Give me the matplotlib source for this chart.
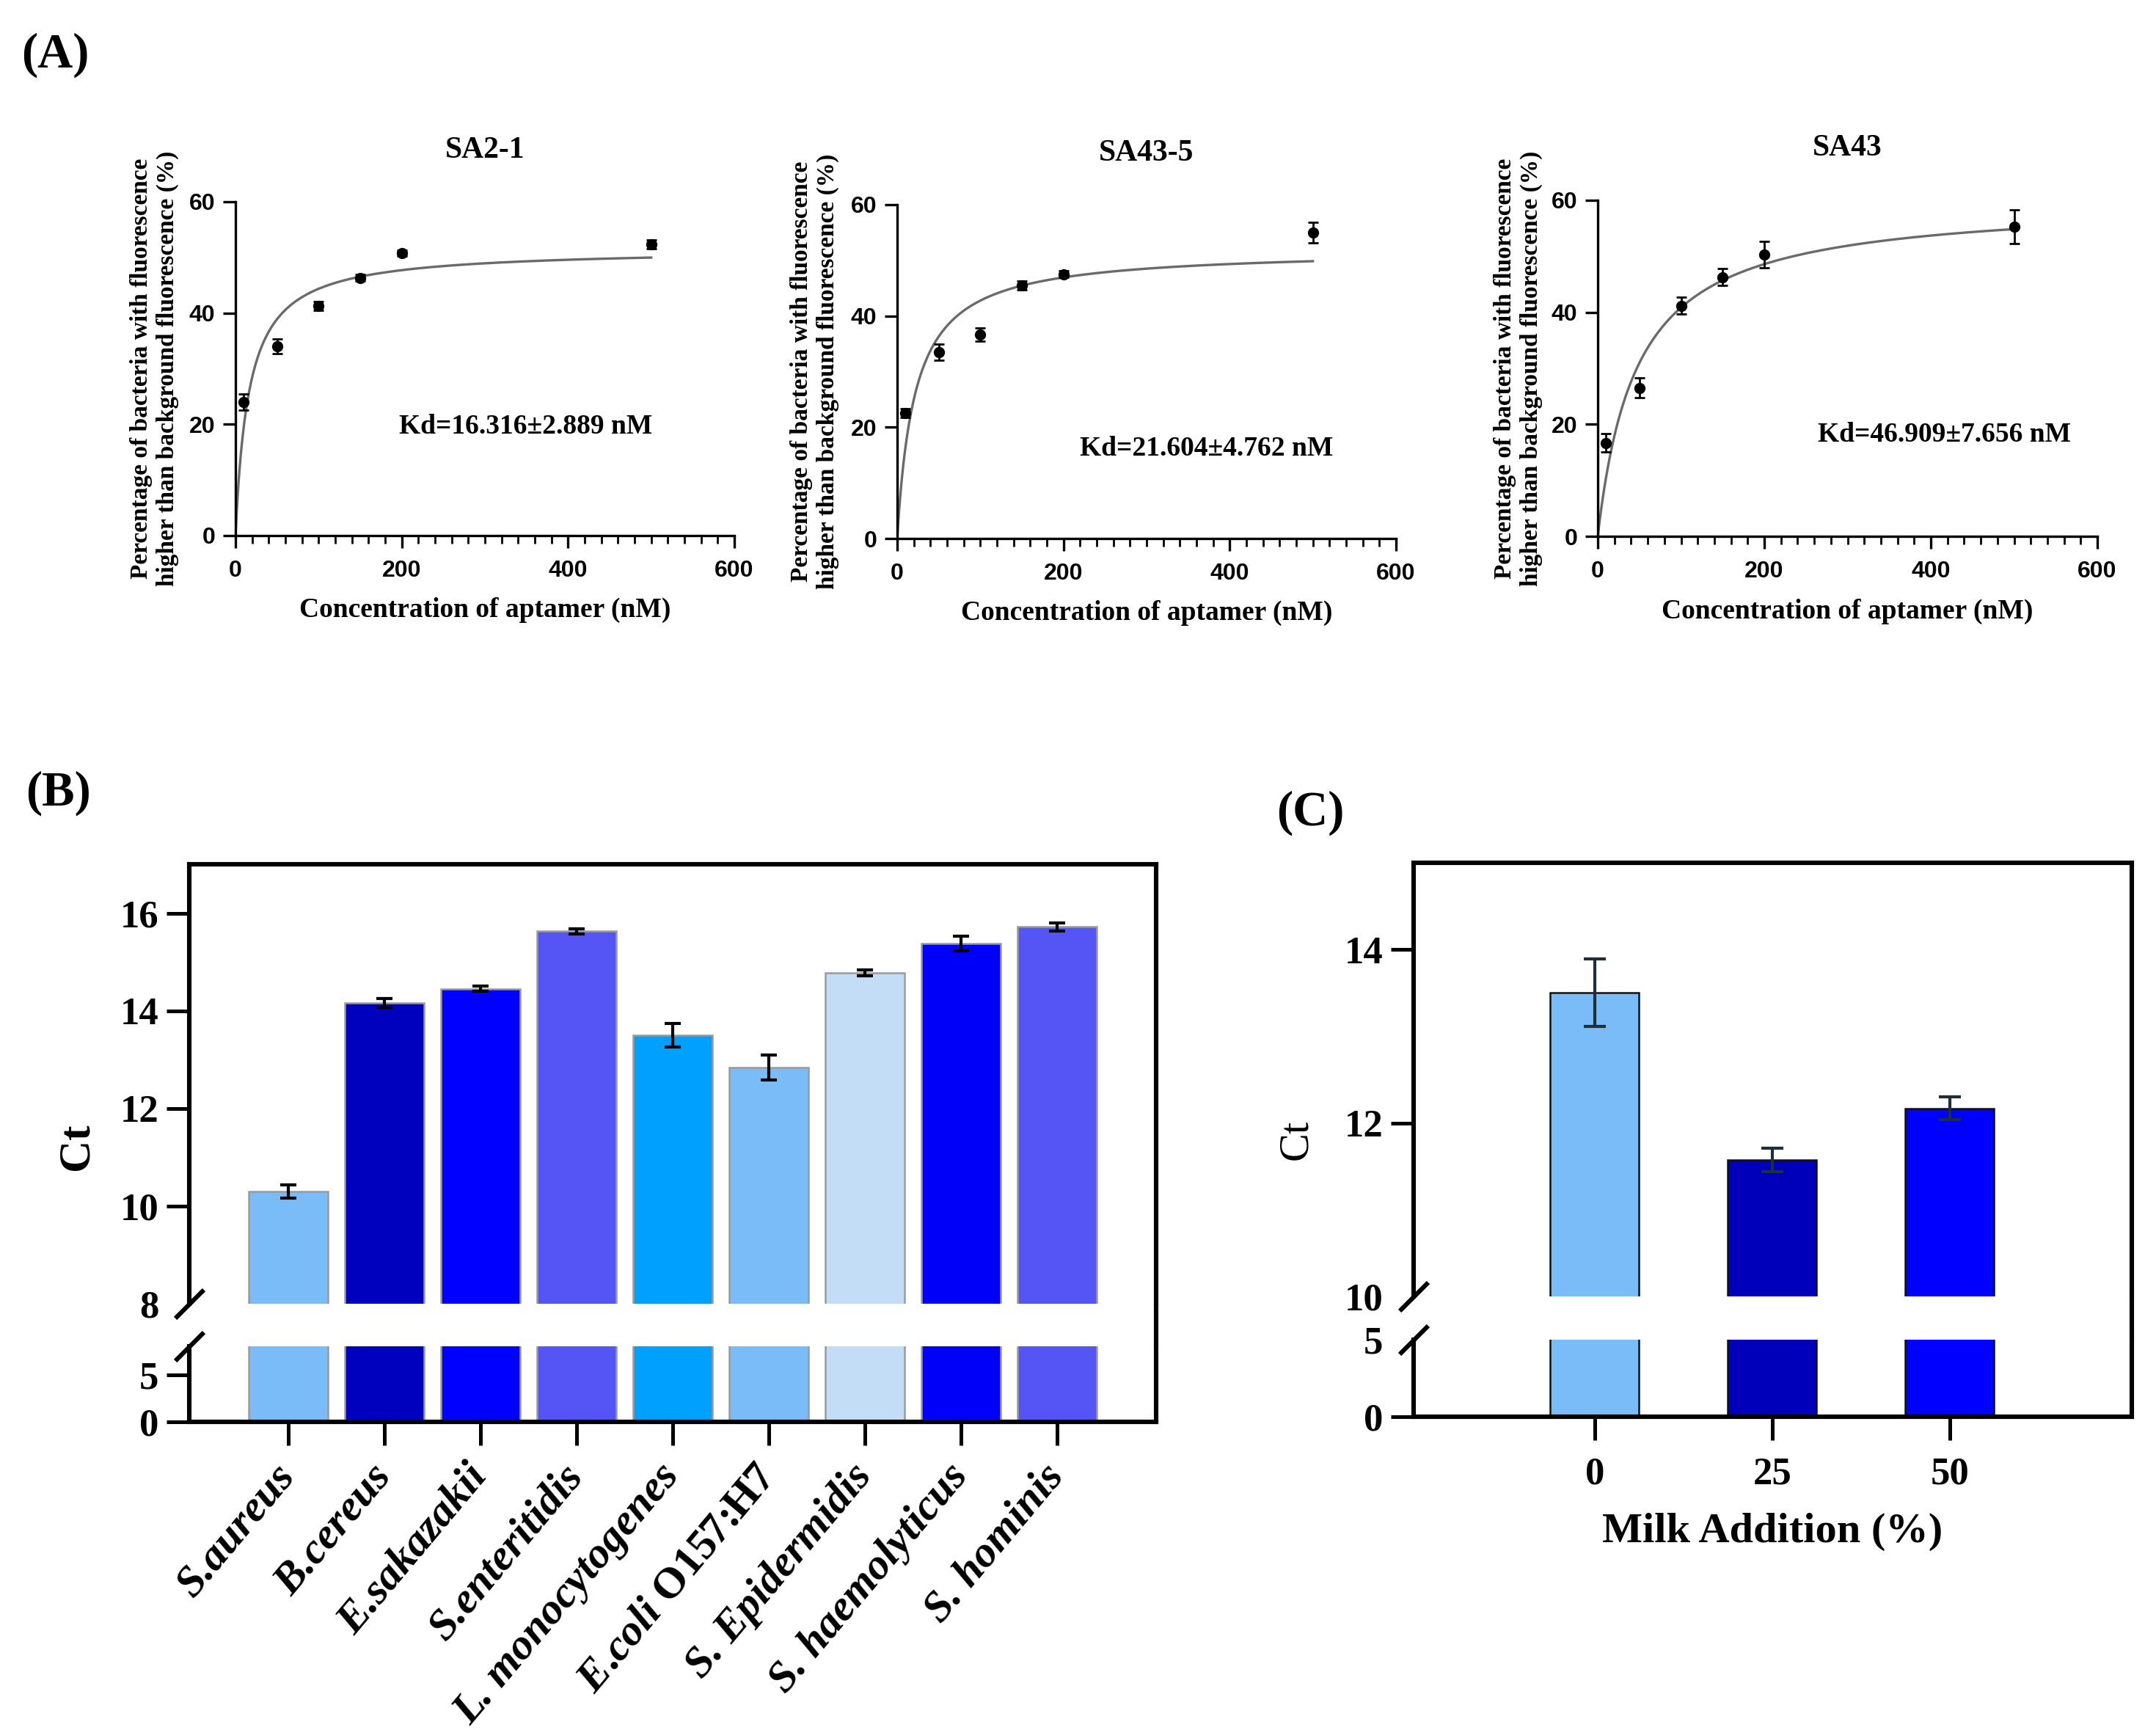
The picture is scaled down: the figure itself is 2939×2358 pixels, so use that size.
import numpy as np
import matplotlib
matplotlib.use("Agg")
import matplotlib.pyplot as plt
from matplotlib.lines import Line2D

plt.rcParams['font.family'] = ['Liberation Serif', 'DejaVu Serif']
plt.rcParams['font.weight'] = 'bold'
plt.rcParams['mathtext.fontset'] = 'custom'
plt.rcParams['mathtext.it'] = 'Liberation Serif:italic:bold'
plt.rcParams['mathtext.rm'] = 'Liberation Serif:bold'

# ---- panel A: binding curves ----
conc = [10, 50, 100, 150, 200, 500]
titles = ['SA2-1', 'SA43-5', 'SA43']
kd = [16.316, 21.604, 46.909]
kd_err = [2.889, 4.762, 7.656]
bmax = [51.6, 52.0, 60.0]
pct = [
    [24.0, 34.0, 41.3, 46.3, 50.8, 52.3],
    [22.5, 33.5, 36.7, 45.5, 47.5, 55.0],
    [16.7, 26.5, 41.2, 46.3, 50.3, 55.3],
]
pct_err = [
    [1.5, 1.3, 0.8, 0.6, 0.5, 0.8],
    [0.8, 1.5, 1.2, 0.8, 0.6, 1.8],
    [1.6, 1.8, 1.5, 1.5, 2.3, 3.0],
]
kd_pos = [(349, 19.6), (372, 16.1), (416, 18.2)]

# ---- panel B: specificity ----
bact = ['S.aureus', 'B.cereus', 'E.sakazakii', 'S.enteritidis', 'L. monocytogenes',
        r'$\mathit{E}$.$\mathit{coli}$ O157:H7', 'S. Epidermidis', 'S. haemolyticus',
        'S. hominis']
ct_b = [10.30, 14.16, 14.45, 15.63, 13.50, 12.84, 14.77, 15.38, 15.72]
ct_b_err = [0.13, 0.09, 0.05, 0.05, 0.24, 0.26, 0.06, 0.155, 0.08]
col_b = ['#7abcf8', '#0000bf', '#0000ff', '#5555f5', '#00a0ff',
         '#7abcf8', '#c4ddf7', '#0000fa', '#5555f5']

# ---- panel C: milk matrix ----
milk = ['0', '25', '50']
ct_c = [13.50, 11.57, 12.17]
ct_c_err = [0.39, 0.135, 0.13]
col_c = ['#7abcf8', '#0000bb', '#0000ff']

W, H = 2939, 2358
fig = plt.figure(figsize=(W / 200, H / 200), dpi=200)

sans = ['Liberation Sans', 'DejaVu Sans']
a_rects = [(321, 275, 1001, 730), (1223, 279, 1903, 734), (2178, 273, 2859, 731)]
ylab_off = [-0.162, -0.166, -0.160]
fit_x = np.linspace(0, 500, 400)

for i in range(3):
    x0, y0, x1, y1 = a_rects[i]
    ax = fig.add_axes([x0 / W, 1 - y1 / H, (x1 - x0) / W, (y1 - y0) / H])
    fit_y = bmax[i] * fit_x / (kd[i] + fit_x)
    ax.plot(fit_x, fit_y, color='#6a6a6a', lw=1.2, zorder=2)
    ax.errorbar(conc, pct[i], yerr=pct_err[i], fmt='o', color='black', ms=4.5,
                elinewidth=1.0, capsize=2.5, capthick=1.0, zorder=3)
    ax.set_xlim(0, 600)
    ax.set_ylim(0, 60)
    ax.set_xticks([0, 200, 400, 600])
    ax.set_xticks(np.arange(0, 601, 20), minor=True)
    ax.set_yticks([0, 20, 40, 60])
    for s in ['top', 'right']:
        ax.spines[s].set_visible(False)
    for s in ['left', 'bottom']:
        ax.spines[s].set_linewidth(1.2)
    ax.tick_params(which='major', length=6, width=1.2, labelsize=11.5, pad=4)
    ax.tick_params(axis='x', which='major', pad=6)
    ax.tick_params(which='minor', length=3.8, width=1.0)
    ax.tick_params(axis='y', which='minor', left=False)
    for lab in ax.get_xticklabels() + ax.get_yticklabels():
        lab.set_family(sans)
        lab.set_weight('bold')
    ax.text(0.5, 1.154, titles[i], transform=ax.transAxes, ha='center', va='center',
            fontsize=15, fontweight='bold')
    ax.text(kd_pos[i][0], kd_pos[i][1], 'Kd=%.3f\u00b1%.3f nM' % (kd[i], kd_err[i]),
            ha='center', va='center', fontsize=13.5, fontweight='bold')
    ax.text(ylab_off[i], 0.5, 'Percentage of bacteria with fluorescence\n'
            'higher than background fluorescence (%)', transform=ax.transAxes,
            rotation=90, ha='center', va='center', fontsize=12, fontweight='bold',
            linespacing=1.2, multialignment='center')
    ax.text(0.5, -0.224, 'Concentration of aptamer (nM)', transform=ax.transAxes,
            ha='center', va='center', fontsize=13.5, fontweight='bold')


def broken_panel(x0, x1, top_y0, top_y1, bot_y0, bot_y1, vals, errs, colors,
                 up_lim, lo_lim, up_ticks, lo_ticks, xlim, width, edge, ecol, cap,
                 hide_up, hide_lo):
    ax_t = fig.add_axes([x0 / W, 1 - top_y1 / H, (x1 - x0) / W, (top_y1 - top_y0) / H])
    ax_b = fig.add_axes([x0 / W, 1 - bot_y1 / H, (x1 - x0) / W, (bot_y1 - bot_y0) / H])
    pos = np.arange(len(vals))
    for ax in (ax_t, ax_b):
        ax.bar(pos, vals, width=width, color=colors, edgecolor=edge, linewidth=0.9,
               zorder=2)
        ax.set_xlim(*xlim)
        for s in ax.spines.values():
            s.set_linewidth(2.2)
        ax.tick_params(axis='y', length=11, width=1.8, labelsize=19, pad=4)
    ax_t.errorbar(pos, vals, yerr=errs, fmt='none', ecolor=ecol, elinewidth=1.5,
                  capsize=cap, capthick=1.5, zorder=3)
    ax_t.set_ylim(*up_lim)
    ax_b.set_ylim(*lo_lim)
    ax_t.set_yticks(up_ticks)
    ax_b.set_yticks(lo_ticks)
    ax_t.spines['bottom'].set_visible(False)
    ax_b.spines['top'].set_visible(False)
    ax_t.tick_params(axis='x', bottom=False, labelbottom=False)
    ax_b.tick_params(axis='x', length=11.5, width=1.8, pad=8, labelsize=19)
    ax_b.set_xticks(pos)
    for j in hide_up:
        ax_t.yaxis.get_major_ticks()[j].tick1line.set_visible(False)
    for j in hide_lo:
        ax_b.yaxis.get_major_ticks()[j].tick1line.set_visible(False)
    # right edge continues through the gap
    fig.add_artist(Line2D([x1 / W, x1 / W], [1 - bot_y0 / H, 1 - top_y1 / H],
                          color='black', lw=2.2, solid_capstyle='butt'))
    # break marks on the left axis
    kw = dict(marker=[(-1, -1), (1, 1)], markersize=14, linestyle='none',
              color='black', mec='black', mew=2.2, clip_on=False)
    ax_t.plot([0], [0], transform=ax_t.transAxes, **kw)
    ax_b.plot([0], [1], transform=ax_b.transAxes, **kw)
    return ax_t, ax_b


bt, bb = broken_panel(258, 1576, 1178, 1777, 1835, 1938, ct_b, ct_b_err, col_b,
                      (8, 17), (0, 8), [8, 10, 12, 14, 16], [0, 5], (-1.03, 9.03),
                      0.83, '#9a9a9a', 'black', 4, [0], [])
bb.set_xticklabels(bact, rotation=50, ha='right', va='center', rotation_mode='anchor',
                   fontsize=21.5, fontweight='bold')
for lab in bb.get_xticklabels():
    if '$' not in lab.get_text():
        lab.set_style('italic')
bb.tick_params(axis='x', pad=12)
fig.text(104 / W, 1 - 1563 / H, 'Ct', rotation=90, ha='center', va='center',
         fontsize=22, fontweight='bold')

ct_, cb = broken_panel(1927, 2906, 1176, 1767, 1826, 1931, ct_c, ct_c_err, col_c,
                       (10, 15), (0, 5), [10, 12, 14], [0, 5], (-1.02, 3.025),
                       0.5, '#111111', '#1e2f3a', 5.5, [0], [1])
cb.set_xticklabels(milk, fontsize=19, fontweight='bold')
fig.text(1767 / W, 1 - 1553 / H, 'Ct', rotation=90, ha='center', va='center',
         fontsize=21, fontweight='normal')
fig.text(2416 / W, 1 - 2088 / H, 'Milk Addition (%)', ha='center', va='center',
         fontsize=21, fontweight='bold')

fig.text(0.010, 0.968, '(A)', ha='left', va='center', fontsize=24, fontweight='bold')
fig.text(0.012, 0.5416, '(B)', ha='left', va='center', fontsize=24, fontweight='bold')
fig.text(0.592, 0.530, '(C)', ha='left', va='center', fontsize=24, fontweight='bold')

fig.savefig('out.png', dpi=200, facecolor='white')
